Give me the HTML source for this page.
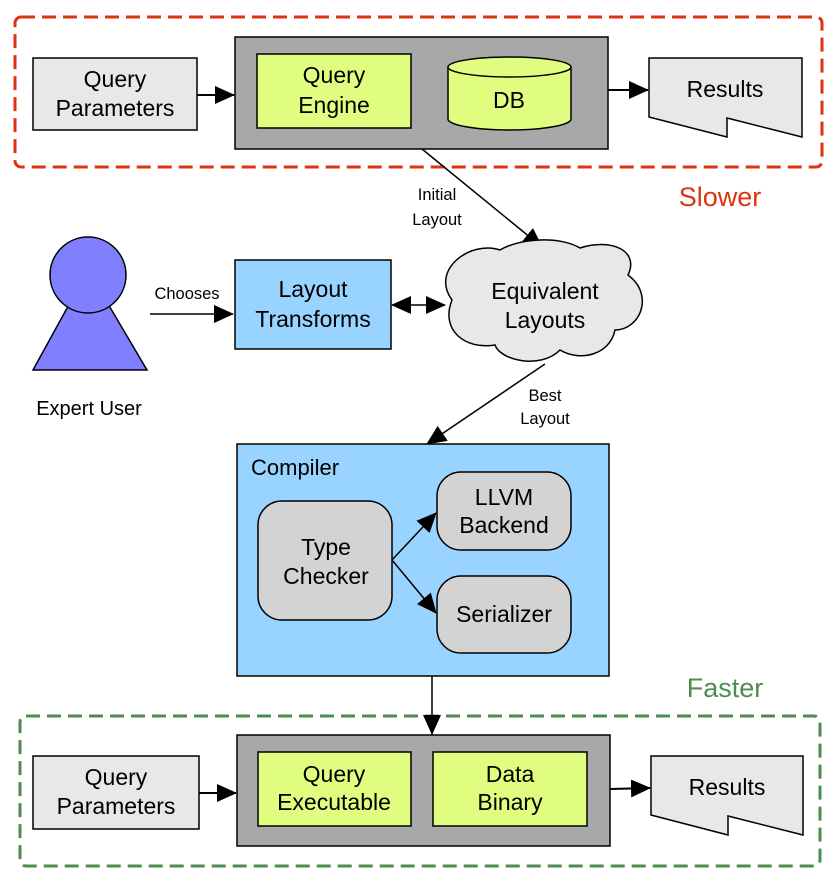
<!DOCTYPE html>
<html><head><meta charset="utf-8"><style>
html,body{margin:0;padding:0;background:#fff;}
svg{display:block;}
text{font-family:"Liberation Sans",sans-serif;fill:#000;}
</style></head><body>
<svg width="835" height="887" viewBox="0 0 835 887" xmlns="http://www.w3.org/2000/svg">
<defs>
<marker id="a" markerWidth="20" markerHeight="18" refX="19" refY="9" orient="auto" markerUnits="userSpaceOnUse">
<path d="M0,0 L20,9 L0,18 z" fill="#000"/></marker>
<marker id="as" markerWidth="20" markerHeight="18" refX="1" refY="9" orient="auto" markerUnits="userSpaceOnUse">
<path d="M20,0 L0,9 L20,18 z" fill="#000"/></marker>
</defs>
<g stroke="#000" stroke-width="2" fill="none">
<rect x="15" y="17" width="807" height="150" rx="6" stroke="#dd3311" stroke-width="3" stroke-dasharray="14,7"/>
<rect x="20" y="716" width="800" height="150" rx="6" stroke="#4e8d4e" stroke-width="3" stroke-dasharray="14,7"/>
<rect x="33" y="58" width="164" height="72" fill="#e8e8e8" stroke-width="1.5"/>
<rect x="235" y="37" width="373" height="112" fill="#a8a8a8" stroke-width="1.5"/>
<rect x="257" y="54" width="154" height="74" fill="#e0fd80" stroke-width="1.5"/>
<path d="M448,67 v52 a61.5,11 0 0 0 123,0 v-52" fill="#e0fd80" stroke-width="1.5"/>
<ellipse cx="509.5" cy="67" rx="61.5" ry="10" fill="#e0fd80" stroke-width="1.5"/>
<path d="M649,58 H802 V137 L727,118 V137 L649,117 Z" fill="#e8e8e8" stroke-width="1.5"/>
<line x1="197" y1="95" x2="234" y2="95" marker-end="url(#a)"/>
<line x1="608" y1="90" x2="648" y2="90" marker-end="url(#a)"/>
<line x1="422" y1="149" x2="542" y2="247" stroke-width="1.5" marker-end="url(#a)"/>
<path d="M88,270 L147,370 L33,370 Z" fill="#7f7fff" stroke-width="1.5"/>
<circle cx="88" cy="275" r="38" fill="#7f7fff" stroke-width="1.5"/>
<line x1="150" y1="314" x2="233" y2="314" stroke-width="1.5" marker-end="url(#a)"/>
<rect x="235" y="260" width="156" height="89" fill="#99d3ff" stroke-width="1.5"/>
<line x1="392" y1="305" x2="445" y2="305" stroke-width="1.5" marker-end="url(#a)" marker-start="url(#as)"/>
<path d="M452,300 C430,270 470,240 500,250 C520,238 560,236 580,248 C610,238 640,250 628,275 C655,295 640,330 615,330 C610,355 580,362 560,350 C540,370 500,360 495,345 C465,350 440,330 452,300 Z" fill="#e8e8e8" stroke-width="1.5"/>
<line x1="545" y1="364" x2="427" y2="444" stroke-width="1.5" marker-end="url(#a)"/>
<rect x="237" y="444" width="372" height="232" fill="#99d3ff" stroke-width="1.5"/>
<rect x="258" y="501" width="134" height="119" rx="24" fill="#d3d3d3" stroke-width="1.5"/>
<rect x="437" y="472" width="134" height="78" rx="24" fill="#d3d3d3" stroke-width="1.5"/>
<rect x="437" y="576" width="134" height="77" rx="24" fill="#d3d3d3" stroke-width="1.5"/>
<line x1="392" y1="560" x2="436" y2="513" stroke-width="1.5" marker-end="url(#a)"/>
<line x1="392" y1="560" x2="436" y2="613" stroke-width="1.5" marker-end="url(#a)"/>
<line x1="432" y1="676" x2="432" y2="734" stroke-width="1.5" marker-end="url(#a)"/>
<rect x="33" y="756" width="166" height="73" fill="#e8e8e8" stroke-width="1.5"/>
<rect x="237" y="735" width="373" height="111" fill="#a8a8a8" stroke-width="1.5"/>
<rect x="258" y="752" width="153" height="74" fill="#e0fd80" stroke-width="1.5"/>
<rect x="433" y="752" width="154" height="74" fill="#e0fd80" stroke-width="1.5"/>
<path d="M651,756 H803 V835 L728,816 V835 L651,815 Z" fill="#e8e8e8" stroke-width="1.5"/>
<line x1="199" y1="793" x2="236" y2="793" marker-end="url(#a)"/>
<line x1="610" y1="789" x2="650" y2="788" marker-end="url(#a)"/>
</g>
<g font-size="23" text-anchor="middle">
<text x="115" y="87">Query</text><text x="115" y="116">Parameters</text>
<text x="334" y="83">Query</text><text x="334" y="113">Engine</text>
<text x="509" y="108">DB</text>
<text x="725" y="97">Results</text>
<text x="720" y="206" font-size="27" style="fill:#dd3311">Slower</text>
<text x="313" y="297">Layout</text><text x="313" y="327">Transforms</text>
<text x="545" y="299">Equivalent</text><text x="545" y="328">Layouts</text>
<text x="326" y="555">Type</text><text x="326" y="584">Checker</text>
<text x="504" y="505">LLVM</text><text x="504" y="533">Backend</text>
<text x="504" y="622">Serializer</text>
<text x="725" y="697" font-size="27" style="fill:#4e8d4e">Faster</text>
<text x="116" y="785">Query</text><text x="116" y="814">Parameters</text>
<text x="334" y="782">Query</text><text x="334" y="810">Executable</text>
<text x="510" y="782">Data</text><text x="510" y="810">Binary</text>
<text x="727" y="795">Results</text>
<text x="89" y="415" font-size="20">Expert User</text>
</g>
<text x="251" y="475" font-size="22">Compiler</text>
<g font-size="16.5" text-anchor="middle">
<text x="437" y="200">Initial</text><text x="437" y="225">Layout</text>
<text x="187" y="299">Chooses</text>
<text x="545" y="401">Best</text><text x="545" y="424">Layout</text>
</g>
</svg>
</body></html>
